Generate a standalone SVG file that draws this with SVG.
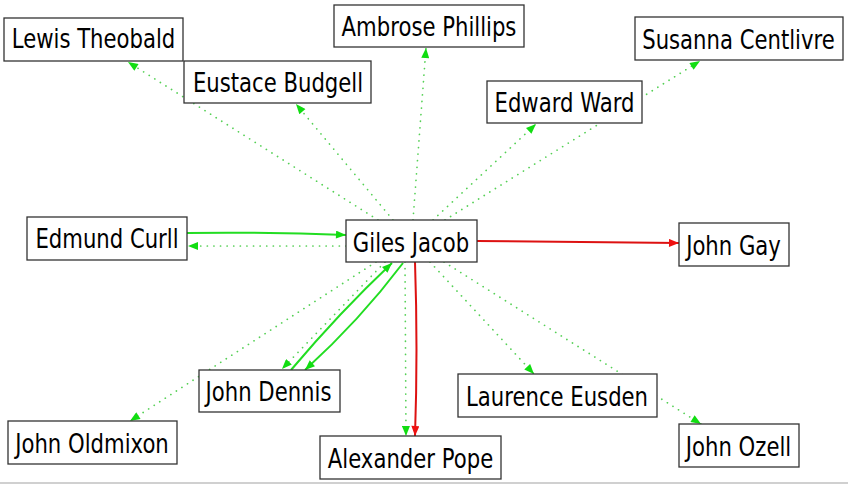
<svg xmlns="http://www.w3.org/2000/svg" width="848" height="484" viewBox="0 0 848 484">
<style>
.box{fill:#fff;stroke:#333;stroke-width:1.3}
.lbl{font-family:"DejaVu Sans","Liberation Sans",sans-serif;font-size:21.2px;fill:#000;text-anchor:middle}
.g{fill:none;stroke:#22dd22;stroke-width:2}
.gd{fill:none;stroke:#55d055;stroke-width:1.7;stroke-dasharray:0.1 6.5;stroke-linecap:round}
.r{fill:none;stroke:#dd1111;stroke-width:2}
</style>
<defs>
<marker id="ag" viewBox="0 0 10 8" refX="10" refY="4" markerWidth="11" markerHeight="8" markerUnits="userSpaceOnUse" orient="auto"><path d="M0,0 L10,4 L0,8 z" fill="#11dd11"/></marker>
<marker id="ar" viewBox="0 0 10 8" refX="10" refY="4" markerWidth="11" markerHeight="8" markerUnits="userSpaceOnUse" orient="auto"><path d="M0,0 L10,4 L0,8 z" fill="#ee1111"/></marker>
</defs>
<rect x="0" y="0" width="848" height="484" fill="#fff"/>
<line x1="0" y1="483" x2="848" y2="483" stroke="#d0d0d0" stroke-width="2"/>
<g id="connectors">
<path class="gd" d="M378,220 L128,62" marker-end="url(#ag)"/>
<path class="gd" d="M393,220 L296,104" marker-end="url(#ag)"/>
<path class="gd" d="M413,220 L426,48" marker-end="url(#ag)"/>
<path class="gd" d="M433,220 L536,124" marker-end="url(#ag)"/>
<path class="gd" d="M445,220 L700,61" marker-end="url(#ag)"/>
<path class="gd" d="M346,246 L188,246" marker-end="url(#ag)"/>
<path class="g" d="M187,233 Q270,232 346,235" marker-end="url(#ag)"/>
<path class="gd" d="M376,262 L130,421" marker-end="url(#ag)"/>
<path class="gd" d="M385,262 L282,369" marker-end="url(#ag)"/>
<path class="g" d="M291,370 Q340,312 392,263" marker-end="url(#ag)"/>
<path class="g" d="M403,263 Q360,320 305,370" marker-end="url(#ag)"/>
<path class="gd" d="M405,262 L406,436" marker-end="url(#ag)"/>
<path class="r" d="M415,262 Q418,350 415,436" marker-end="url(#ar)"/>
<path class="gd" d="M430,262 L534,374" marker-end="url(#ag)"/>
<path class="gd" d="M444,262 L701,424" marker-end="url(#ag)"/>
<path class="r" d="M477,241 Q580,242 679,243" marker-end="url(#ar)"/>
</g>
<g id="n_lewis_theobald"><rect class="box" x="4" y="18" width="179" height="43"/><text class="lbl" transform="translate(93.5,48) scale(1,1.28)">Lewis Theobald</text></g>
<g id="n_eustace_budgell"><rect class="box" x="184" y="61" width="187" height="42"/><text class="lbl" transform="translate(278,92) scale(1,1.28)">Eustace Budgell</text></g>
<g id="n_ambrose_phillips"><rect class="box" x="334" y="5" width="190" height="42"/><text class="lbl" transform="translate(429,36) scale(1,1.28)">Ambrose Phillips</text></g>
<g id="n_susanna_centlivre"><rect class="box" x="635" y="17" width="208" height="43"/><text class="lbl" transform="translate(738.5,49) scale(1,1.28)">Susanna Centlivre</text></g>
<g id="n_edward_ward"><rect class="box" x="487" y="81" width="155" height="42"/><text class="lbl" transform="translate(564.5,112) scale(1,1.28)">Edward Ward</text></g>
<g id="n_edmund_curll"><rect class="box" x="27" y="217" width="160" height="43"/><text class="lbl" transform="translate(107,248) scale(1,1.28)">Edmund Curll</text></g>
<g id="n_giles_jacob"><rect class="box" x="346" y="220" width="131" height="42"/><text class="lbl" transform="translate(411,252) scale(1,1.28)">Giles Jacob</text></g>
<g id="n_john_gay"><rect class="box" x="679" y="223" width="110" height="43"/><text class="lbl" transform="translate(733.5,255) scale(1,1.28)">John Gay</text></g>
<g id="n_john_dennis"><rect class="box" x="199" y="370" width="141" height="42"/><text class="lbl" transform="translate(268.5,401) scale(1,1.28)">John Dennis</text></g>
<g id="n_john_oldmixon"><rect class="box" x="8" y="421" width="169" height="43"/><text class="lbl" transform="translate(92,453) scale(1,1.28)">John Oldmixon</text></g>
<g id="n_alexander_pope"><rect class="box" x="320" y="436" width="181" height="43"/><text class="lbl" transform="translate(410.5,468) scale(1,1.28)">Alexander Pope</text></g>
<g id="n_laurence_eusden"><rect class="box" x="458" y="374" width="199" height="43"/><text class="lbl" transform="translate(557,406) scale(1,1.28)">Laurence Eusden</text></g>
<g id="n_john_ozell"><rect class="box" x="679" y="424" width="120" height="43"/><text class="lbl" transform="translate(738.5,456) scale(1,1.28)">John Ozell</text></g>
</svg>
